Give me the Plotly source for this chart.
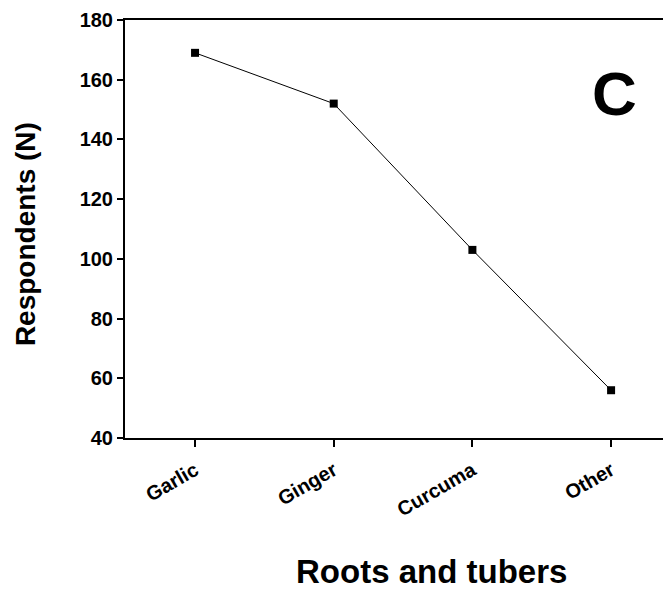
import plotly.graph_objects as go

categories = ["Garlic", "Ginger", "Curcuma", "Other"]
respondents = [169, 152, 103, 56]
y_ticks = [40, 60, 80, 100, 120, 140, 160, 180]

FONT = "Arial, Liberation Sans, sans-serif"

fig = go.Figure()
fig.add_trace(go.Scatter(
    x=categories, y=respondents, mode="lines+markers",
    line=dict(color="black", width=1),
    marker=dict(symbol="square", size=8, color="black"),
    showlegend=False,
))

# page body has an 8px default margin; keep the figure inside the window
fig.update_layout(
    width=663, height=576,
    margin=dict(l=117, r=0, t=12, b=146),
    plot_bgcolor="white", paper_bgcolor="white",
    font=dict(family=FONT, color="black"),
    xaxis=dict(
        type="category", range=[-0.505, 3.432],
        showline=True, linecolor="black", linewidth=2, mirror=True,
        ticks="outside", ticklen=7, tickwidth=1.5, tickcolor="black",
        tickangle=-30, showgrid=False, zeroline=False, ticklabelstandoff=4,
        tickfont=dict(family=FONT, size=20, weight="bold", color="black"),
    ),
    yaxis=dict(
        range=[40, 180], tickvals=y_ticks,
        showline=True, linecolor="black", linewidth=2,
        ticks="outside", ticklen=6, tickwidth=1.5, tickcolor="black",
        showgrid=False, zeroline=False,
        tickfont=dict(family=FONT, size=20, weight="bold", color="black"),
    ),
    annotations=[
        dict(text="C", xref="paper", yref="paper", x=0.897, y=0.825,
             xanchor="center", yanchor="middle", showarrow=False,
             font=dict(family=FONT, size=62, weight="bold", color="black")),
        dict(text="Roots and tubers", xref="paper", yref="paper", x=0.562, y=-0.319,
             xanchor="center", yanchor="middle", showarrow=False,
             font=dict(family=FONT, size=33, weight="bold", color="black")),
        dict(text="Respondents (N)", xref="paper", yref="paper", x=-0.183, y=0.488,
             xanchor="center", yanchor="middle", showarrow=False, textangle=-90,
             font=dict(family=FONT, size=28, weight="bold", color="black")),
    ],
)

fig.write_html("out.html")
